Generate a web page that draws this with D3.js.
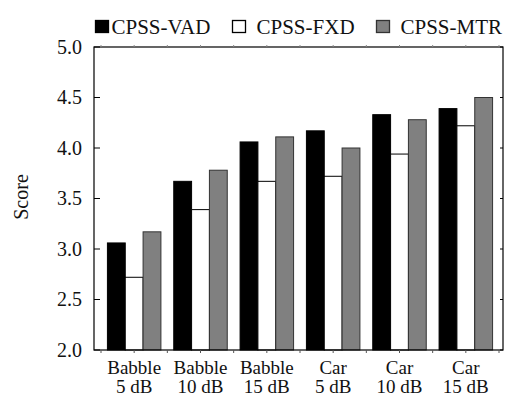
<!DOCTYPE html>
<html>
<head>
<meta charset="utf-8">
<script src="https://cdn.jsdelivr.net/npm/d3@7"></script>
<style>
  body { margin: 0; background: #fff; }
  text { font-family: "Liberation Serif", "Times New Roman", serif; fill: #111; }
</style>
</head>
<body>
<div id="chart"></div>
<script>
var categories = [["Babble", "5 dB"], ["Babble", "10 dB"], ["Babble", "15 dB"],
                  ["Car", "5 dB"], ["Car", "10 dB"], ["Car", "15 dB"]]
var seriesNames = ["CPSS-VAD", "CPSS-FXD", "CPSS-MTR"]
var vad = [3.06, 3.67, 4.06, 4.17, 4.33, 4.39]
var fxd = [2.72, 3.39, 3.67, 3.72, 3.94, 4.22]
var mtr = [3.17, 3.78, 4.11, 4.00, 4.28, 4.50]
var yTicks = [2.0, 2.5, 3.0, 3.5, 4.0, 4.5, 5.0]

var colors = ["#000", "#fff", "#808080"]
var strokes = ["#000", "#000", "#333"]
var seriesValues = [vad, fxd, mtr]

var width = 505, height = 397
var frame = {left: 94, right: 503, top: 47, bottom: 350}

var svg = d3.select('#chart').append('svg')
    .attr('width', width).attr('height', height)

var keys = categories.map(function(c, i){ return i })
var x = d3.scaleBand().domain(keys).range([101, 499])
var x1 = d3.scaleBand().domain(d3.range(seriesNames.length))
    .range([0, x.bandwidth()]).paddingOuter(0.36)
var y = d3.scaleLinear().domain([2, 5]).range([frame.bottom, frame.top])

// bars
seriesValues.forEach(function(vals, s){
  svg.append('g').selectAll('rect')
    .data(vals)
    .enter().append('rect')
      .attr('x', function(d, i){ return x(i) + x1(s) })
      .attr('y', function(d){ return y(d) })
      .attr('width', x1.bandwidth())
      .attr('height', function(d){ return y(2) - y(d) })
      .style('fill', colors[s])
      .style('stroke', strokes[s])
      .style('stroke-width', 1)
})

// frame
svg.append('rect')
    .attr('x', frame.left).attr('y', frame.top)
    .attr('width', frame.right - frame.left).attr('height', frame.bottom - frame.top)
    .style('fill', 'none').style('stroke', '#000').style('stroke-width', 1.2)

// y ticks + labels
var yAxis = svg.append('g')
yAxis.selectAll('line.l').data(yTicks).enter().append('line')
    .attr('x1', frame.left).attr('x2', frame.left + 6)
    .attr('y1', function(d){ return y(d) }).attr('y2', function(d){ return y(d) })
    .style('stroke', '#000')
yAxis.selectAll('line.r').data(yTicks).enter().append('line')
    .attr('x1', frame.right - 3).attr('x2', frame.right)
    .attr('y1', function(d){ return y(d) }).attr('y2', function(d){ return y(d) })
    .style('stroke', '#000')
yAxis.selectAll('text').data(yTicks).enter().append('text')
    .attr('x', 82).attr('y', function(d){ return y(d) + 6.5 })
    .attr('text-anchor', 'end')
    .style('font-size', '20px')
    .text(function(d){ return d.toFixed(1) })

// x ticks at group edges and centres
var xTickPos = []
keys.forEach(function(k){ xTickPos.push(x(k), x(k) + x.bandwidth() / 2) })
xTickPos.push(x.range()[1])
svg.append('g').selectAll('line').data(xTickPos).enter().append('line')
    .attr('x1', function(d){ return d }).attr('x2', function(d){ return d })
    .attr('y1', frame.bottom).attr('y2', frame.bottom + 3)
    .style('stroke', '#555')
svg.append('g').selectAll('line').data(xTickPos).enter().append('line')
    .attr('x1', function(d){ return d }).attr('x2', function(d){ return d })
    .attr('y1', frame.top - 2).attr('y2', frame.top)
    .style('stroke', '#888')

// x labels
var xl = svg.append('g').selectAll('text').data(categories).enter().append('text')
    .attr('text-anchor', 'middle')
    .style('font-size', '19px')
xl.append('tspan')
    .attr('x', function(d, i){ return x(i) + x.bandwidth() / 2 })
    .attr('y', 374)
    .text(function(d){ return d[0] })
xl.append('tspan')
    .attr('x', function(d, i){ return x(i) + x.bandwidth() / 2 })
    .attr('y', 393)
    .text(function(d){ return d[1] })

// y label
svg.append('text')
    .attr('transform', 'translate(28,197) rotate(-90)')
    .attr('text-anchor', 'middle')
    .style('font-size', '20px')
    .text('Score')

// legend
var legendX = [95, 232, 376]
var legend = svg.append('g').selectAll('g').data(seriesNames).enter().append('g')
    .attr('transform', function(d, i){ return 'translate(' + legendX[i] + ',20)' })
legend.append('rect')
    .attr('x', 0.5).attr('y', 0.5).attr('width', 13).attr('height', 12)
    .style('fill', function(d, i){ return colors[i] })
    .style('stroke', function(d, i){ return strokes[i] })
    .style('stroke-width', 1.3)
legend.append('text')
    .attr('x', function(d, i){ return i == 0 ? 16.5 : 24.5 })
    .attr('y', 13.5)
    .style('font-size', '21px')
    .text(function(d){ return d })
</script>
</body>
</html>
